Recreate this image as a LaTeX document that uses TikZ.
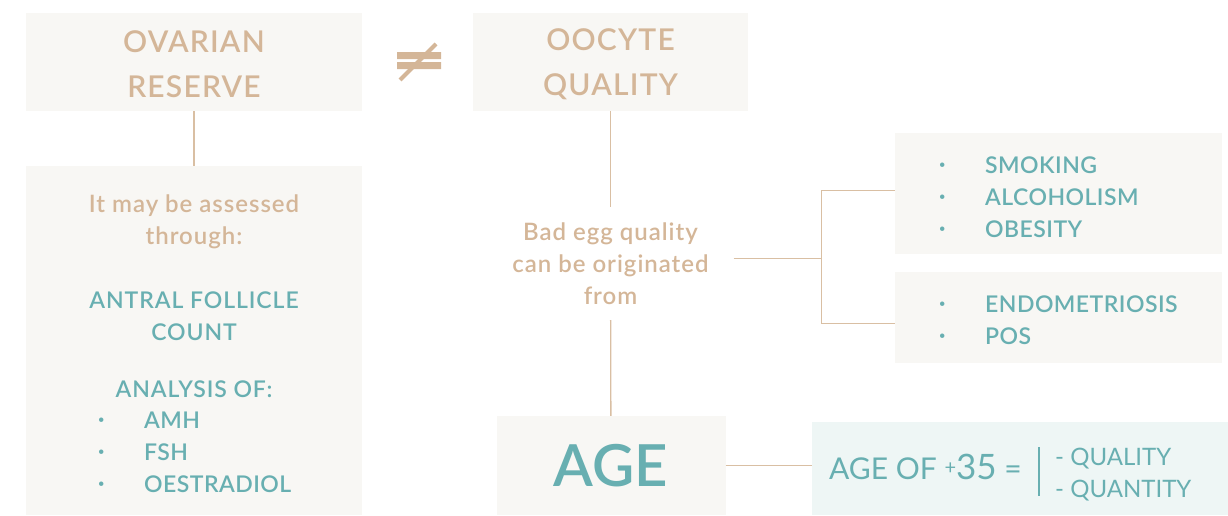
\documentclass[tikz,border=0pt]{standalone}
\usepackage{fontspec}
\setmainfont{Lato}
\newfontfamily\semi{Lato Semibold}
\usetikzlibrary{positioning}

\definecolor{sand}{HTML}{D4B698}
\definecolor{sea}{HTML}{68AFB1}
\definecolor{paper}{HTML}{F8F7F4}
\definecolor{mist}{HTML}{EEF6F5}
\definecolor{wire}{HTML}{D9BFA3}

\tikzset{
  panel/.style={fill=paper, inner sep=0pt, align=center},
  wire/.style={draw=wire, line width=1.3pt},
  head/.style={text=sand, font=\semi\fontsize{30}{45}\selectfont\addfontfeature{LetterSpace=4}},
  tan/.style={text=sand, align=center, font=\semi\fontsize{24}{32}\selectfont\addfontfeature{LetterSpace=4}},
  aqua/.style={text=sea, align=center, font=\semi\fontsize{23}{32}\selectfont\addfontfeature{LetterSpace=4}},
  item/.style={text=sea, anchor=base west, inner sep=0pt, font=\semi\fontsize{23}{32}\selectfont\addfontfeature{LetterSpace=2}},
}
% small bullet followed by a fixed gap
\newcommand{\itm}[1]{\makebox[46pt][l]{\raisebox{5pt}{\fontsize{11}{11}\selectfont\textbullet}}#1}

\begin{document}
\begin{tikzpicture}[x=1pt, y=-1pt]
\useasboundingbox (0,0) rectangle (1228,515);

% top row
\node[panel, minimum width=336pt, minimum height=98pt] (reserve) at (194,62) {};
\node[head, align=center] (reservetxt) at (194,64) {OVARIAN\\RESERVE};
\node[panel, minimum width=275pt, minimum height=98pt] (quality) at (610.5,62) {};
\node[head, align=center] (qualitytxt) at (610.5,64) {OOCYTE\\QUALITY};
\fill[sand] (397,52) rectangle (441,59) (397,62) rectangle (441,69);
\draw[sand, line width=4pt] (400,80) -- (436,44);

% how the reserve is measured
\node[panel, minimum width=336pt, minimum height=349pt] (assess) at (194,340.5) {};
\draw[wire] (reserve) -- (assess);
\node[tan] (how) at (194,222) {It may be assessed\\through:};
\node[aqua] (afc) at (194,316) {ANTRAL FOLLICLE\\COUNT};
\node[aqua, anchor=base] (tests) at (194,397) {ANALYSIS OF:};
\foreach \t [count=\i] in {AMH,FSH,OESTRADIOL}
  \node[item] (hormone\i) at (98,396+32*\i) {\itm{\t}};

% causes of poor quality
\node[tan, minimum width=246pt, minimum height=113pt] (cause) at (610.5,263.5) {Bad egg quality\\can be originated\\from};
\draw[wire] (quality) -- (cause);
\node[panel, minimum width=229pt, minimum height=99pt, text=sea, font=\semi\fontsize{58}{58}\selectfont] (age) at (611,465.5) {AGE};
\draw[wire] (cause) -- (age);

\node[panel, minimum width=327pt, minimum height=121pt] (habits) at (1058.5,193.5) {};
\node[panel, minimum width=327pt, minimum height=91pt] (illness) at (1058.5,317.5) {};
\foreach \t [count=\i] in {SMOKING,ALCOHOLISM,OBESITY}
  \node[item] (habit\i) at (939,141+32*\i) {\itm{\t}};
\foreach \t [count=\i] in {ENDOMETRIOSIS,POS}
  \node[item] (ill\i) at (939,280+32*\i) {\itm{\t}};

\draw[wire] ([yshift=5pt]cause.east) -- ++(88,0) coordinate (fork);
\draw[wire] ([yshift=3pt]habits.west) -| (fork) |- ([yshift=-6pt]illness.west);

% age effect
\node[fill=mist, inner sep=0pt, minimum width=416pt, minimum height=93pt] (outcome) at (1020,468.5) {};
\draw[wire] (age.east) -- (outcome.west |- age.east);
\node[text=sea, anchor=base east, inner sep=0pt, font=\fontsize{30}{30}\selectfont] (over) at (1022,479)
  {AGE OF \raisebox{5pt}{\fontsize{20}{20}\selectfont+}{\fontsize{35}{35}\selectfont 35} =};
\draw[sea, line width=1.3pt] (1039,447) -- (1039,496);
\node[item, font=\fontsize{24}{24}\selectfont] (less1) at (1055,465) {- QUALITY};
\node[item, font=\fontsize{24}{24}\selectfont] (less2) at (1055,497) {- QUANTITY};
\end{tikzpicture}
\end{document}
